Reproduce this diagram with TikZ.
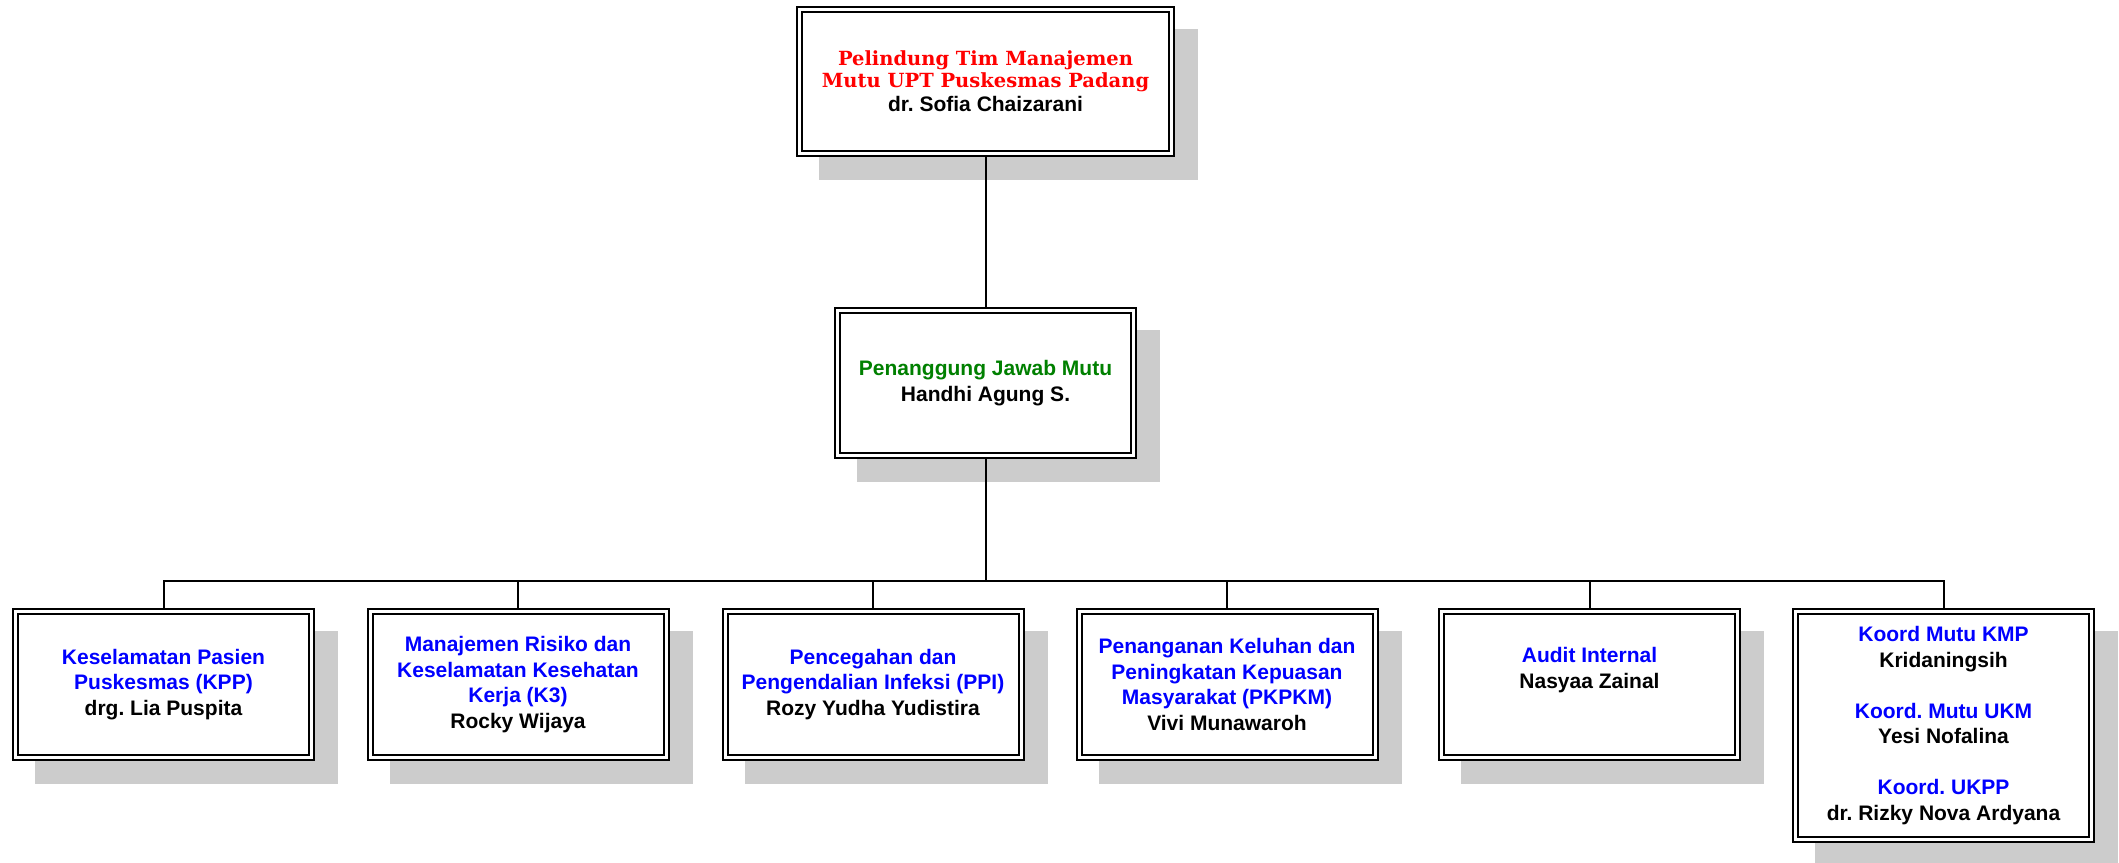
\documentclass[tikz,border=0pt]{standalone}
\usepackage{fontspec}
\setmainfont{Liberation Sans}
\newfontfamily\orgtitlefont{DejaVu Serif}
\usetikzlibrary{calc}
\definecolor{tred}{RGB}{255,0,0}
\definecolor{tgreen}{RGB}{0,128,0}
\definecolor{tblue}{RGB}{0,0,255}
\definecolor{shadowgray}{RGB}{204,204,204}
\pgfdeclarelayer{shadowlayer}
\pgfdeclarelayer{edgelayer}
\pgfsetlayers{shadowlayer,edgelayer,main}
\frenchspacing
\newcommand{\orgttl}[1]{{\orgtitlefont\bfseries\fontsize{19.5}{24}\selectfont\color{tred}#1}}
\newcommand{\orgrole}[1]{\textcolor{tblue}{#1}}
\tikzset{
  orgbox/.style={draw=black, line width=2pt, double=white, double distance=3pt,
    fill=white, align=center, inner sep=0pt, outer sep=0pt,
    minimum width=296pt, minimum height=146pt,
    font=\bfseries\fontsize{21}{25.5}\selectfont},
  link/.style={draw=black, line width=2pt},
  shadowbox/.style={fill=shadowgray}
}
\begin{document}
\frenchspacing
\begin{tikzpicture}[x=1pt,y=-1pt]
\useasboundingbox (0,0) rectangle (2119,862);

\node[orgbox, minimum width=372pt, minimum height=144pt, font=\bfseries\fontsize{21}{24}\selectfont] (top) at (985.5,81.5)
  {\orgttl{Pelindung Tim Manajemen}\\[-2pt]\orgttl{Mutu UPT Puskesmas Padang}\\dr. Sofia Chaizarani};

\node[orgbox, minimum height=145pt] (mid) at (985.5,383)
  {\textcolor{tgreen}{Penanggung Jawab Mutu}\\Handhi Agung S.};

\node[orgbox] (b1) at (163.5,684.5)
  {\orgrole{Keselamatan Pasien}\\\orgrole{Puskesmas (KPP)}\\drg. Lia Puspita};
\node[orgbox] (b2) at (518,684.5)
  {\orgrole{Manajemen Risiko dan}\\\orgrole{Keselamatan Kesehatan}\\\orgrole{Kerja (K3)}\\Rocky Wijaya};
\node[orgbox] (b3) at (873,684.5)
  {\orgrole{Pencegahan dan}\\\orgrole{Pengendalian Infeksi (PPI)}\\Rozy Yudha Yudistira};
\node[orgbox] (b4) at (1227,684.5)
  {\orgrole{Penanganan Keluhan dan}\\\orgrole{Peningkatan Kepuasan}\\\orgrole{Masyarakat (PKPKM)}\\Vivi Munawaroh};
\node[orgbox] (b5) at (1589.5,684.5)
  {\orgrole{Audit Internal}\\Nasyaa Zainal\\\strut};
\node[orgbox, minimum height=228pt] (b6) at (1943.5,725.5)
  {\orgrole{Koord Mutu KMP}\\Kridaningsih\\[25.5pt]\orgrole{Koord. Mutu UKM}\\Yesi Nofalina\\[25.5pt]\orgrole{Koord. UKPP}\\dr. Rizky Nova Ardyana};

\begin{pgfonlayer}{shadowlayer}
  \foreach \n in {top,mid,b1,b2,b3,b4,b5,b6}
    \fill[shadowbox] ([xshift=19.5pt,yshift=-19.5pt]\n.north west) rectangle ([xshift=26.5pt,yshift=-26.5pt]\n.south east);
\end{pgfonlayer}

\begin{pgfonlayer}{edgelayer}
  \coordinate (bus) at (985.5,581);
  \draw[link] (top) -- (mid);
  \draw[link] (mid.south) -- (bus);
  \foreach \b in {b1,b2,b3,b4,b5,b6}
    \draw[link] (\b.north) |- (bus);
\end{pgfonlayer}
\end{tikzpicture}
\end{document}
